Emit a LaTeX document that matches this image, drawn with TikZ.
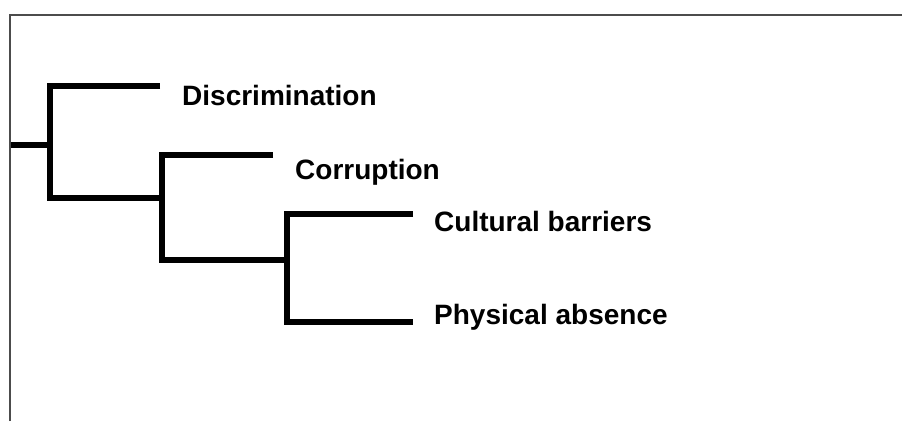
\documentclass[tikz,border=0pt]{standalone}
\usepackage{fontspec}
\setmainfont{Liberation Sans}
\begin{document}
\begin{tikzpicture}[x=1pt,y=-1pt,
  br/.style={line width=5.5pt, line join=miter},
  lab/.style={font=\bfseries\fontsize{28}{32}\selectfont, anchor=base west, inner sep=0pt, text=black}]
\useasboundingbox (0,0) rectangle (902,421);
\draw[black!70, line width=1.5pt] (10,421) -- (10,15) -- (902,15);

\coordinate (root) at (11,145);
\coordinate (j1) at (50,145);
\coordinate (a1) at (50,86);
\coordinate (b1) at (50,198);
\coordinate (e1) at (160,86);
\coordinate (j2) at (162,198);
\coordinate (a2) at (162,155);
\coordinate (b2) at (162,260);
\coordinate (e2) at (273,155);
\coordinate (j3) at (287,260);
\coordinate (a3) at (287,214);
\coordinate (b3) at (287,322);
\coordinate (e3) at (413,214);
\coordinate (e4) at (413,322);

\node[lab] (disc) at (182,105) {Discrimination};
\node[lab] (corr) at (295,179) {Corruption};
\node[lab] (cult) at (434,231) {Cultural barriers};
\node[lab] (phys) at (434,324) {Physical absence};

\draw[br] (root) -- (j1);
\draw[br] (e1) -- (a1) -- (b1) -- (j2);
\draw[br] (e2) -- (a2) -- (b2) -- (j3);
\draw[br] (e3) -- (a3) -- (b3) -- (e4);
\end{tikzpicture}
\end{document}
